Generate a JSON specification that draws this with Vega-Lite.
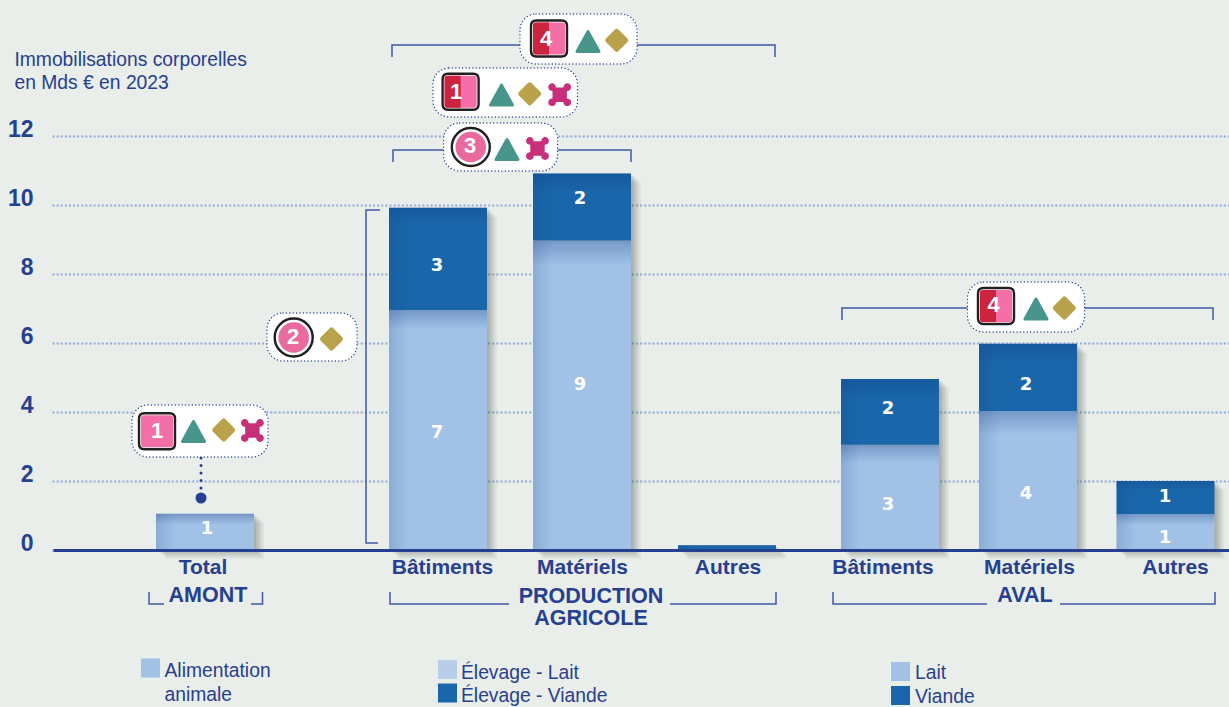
{
"$schema":"https://vega.github.io/schema/vega-lite/v6.json",
"width":1176,"height":414,
"autosize":{"type":"none"},
"padding":{"left":53,"top":136,"right":0,"bottom":157},
"background":"#e9eeea",
"config":{"view":{"stroke":null},"font":"Liberation Sans"},
"title":{"text":["Immobilisations corporelles","en Mds € en 2023"],"anchor":"start","align":"left","dx":7,"dy":80,"offset":0,"font":"Liberation Sans","fontSize":19.3,"fontWeight":"normal","color":"#27408f","lineHeight":23},
"datasets":{
"barres":[
{"bar":"Amont Total","pos":1.52,"serie":"Alimentation animale","teinte":"clair","ordre":1,"valeur":1.05},
{"bar":"Production Bâtiments","pos":3.85,"serie":"Élevage - Lait","teinte":"clair","ordre":1,"valeur":6.96},
{"bar":"Production Bâtiments","pos":3.85,"serie":"Élevage - Viande","teinte":"fonce","ordre":2,"valeur":2.96},
{"bar":"Production Matériels","pos":5.29,"serie":"Élevage - Lait","teinte":"clair","ordre":1,"valeur":8.97},
{"bar":"Production Matériels","pos":5.29,"serie":"Élevage - Viande","teinte":"fonce","ordre":2,"valeur":1.94},
{"bar":"Production Autres","pos":6.74,"serie":"Élevage - Viande","teinte":"fonce","ordre":2,"valeur":0.14},
{"bar":"Aval Bâtiments","pos":8.37,"serie":"Lait","teinte":"clair","ordre":1,"valeur":3.05},
{"bar":"Aval Bâtiments","pos":8.37,"serie":"Viande","teinte":"fonce","ordre":2,"valeur":1.91},
{"bar":"Aval Matériels","pos":9.75,"serie":"Lait","teinte":"clair","ordre":1,"valeur":4.03},
{"bar":"Aval Matériels","pos":9.75,"serie":"Viande","teinte":"fonce","ordre":2,"valeur":1.95},
{"bar":"Aval Autres","pos":11.125,"serie":"Lait","teinte":"clair","ordre":1,"valeur":1.04},
{"bar":"Aval Autres","pos":11.125,"serie":"Viande","teinte":"fonce","ordre":2,"valeur":0.96}
],
"etiquettes":[
{"pos":1.54,"val":0.609,"texte":"1"},
{"pos":3.84,"val":3.391,"texte":"7"},{"pos":3.84,"val":8.232,"texte":"3"},
{"pos":5.27,"val":4.783,"texte":"9"},{"pos":5.27,"val":10.174,"texte":"2"},
{"pos":8.35,"val":1.304,"texte":"3"},{"pos":8.35,"val":4.087,"texte":"2"},
{"pos":9.73,"val":1.623,"texte":"4"},{"pos":9.73,"val":4.783,"texte":"2"},
{"pos":11.12,"val":0.348,"texte":"1"},{"pos":11.12,"val":1.536,"texte":"1"}
],
"crochets":[
{"trait":"A","ordre":1,"pos":3.39,"val":14.29},{"trait":"A","ordre":2,"pos":3.39,"val":14.638},{"trait":"A","ordre":3,"pos":7.22,"val":14.638},{"trait":"A","ordre":4,"pos":7.22,"val":14.29},
{"trait":"B","ordre":1,"pos":3.40,"val":11.246},{"trait":"B","ordre":2,"pos":3.40,"val":11.594},{"trait":"B","ordre":3,"pos":5.78,"val":11.594},{"trait":"B","ordre":4,"pos":5.78,"val":11.246},
{"trait":"C","ordre":1,"pos":3.27,"val":9.855},{"trait":"C","ordre":2,"pos":3.13,"val":9.855},{"trait":"C","ordre":3,"pos":3.13,"val":0.203},{"trait":"C","ordre":4,"pos":3.25,"val":0.203},
{"trait":"D","ordre":1,"pos":7.89,"val":6.667},{"trait":"D","ordre":2,"pos":7.89,"val":7.014},{"trait":"D","ordre":3,"pos":11.60,"val":7.014},{"trait":"D","ordre":4,"pos":11.60,"val":6.667},
{"trait":"E1","ordre":1,"pos":0.96,"val":-1.217},{"trait":"E1","ordre":2,"pos":0.96,"val":-1.565},{"trait":"E1","ordre":3,"pos":1.11,"val":-1.565},
{"trait":"E2","ordre":1,"pos":1.98,"val":-1.565},{"trait":"E2","ordre":2,"pos":2.095,"val":-1.565},{"trait":"E2","ordre":3,"pos":2.095,"val":-1.217},
{"trait":"F1","ordre":1,"pos":3.37,"val":-1.217},{"trait":"F1","ordre":2,"pos":3.37,"val":-1.565},{"trait":"F1","ordre":3,"pos":4.56,"val":-1.565},
{"trait":"F2","ordre":1,"pos":6.17,"val":-1.565},{"trait":"F2","ordre":2,"pos":7.23,"val":-1.565},{"trait":"F2","ordre":3,"pos":7.23,"val":-1.217},
{"trait":"G1","ordre":1,"pos":7.80,"val":-1.217},{"trait":"G1","ordre":2,"pos":7.80,"val":-1.565},{"trait":"G1","ordre":3,"pos":9.34,"val":-1.565},
{"trait":"G2","ordre":1,"pos":10.07,"val":-1.565},{"trait":"G2","ordre":2,"pos":11.62,"val":-1.565},{"trait":"G2","ordre":3,"pos":11.62,"val":-1.217}
],
"bulles":[
{"pos":0.79,"pos2":2.15,"val":4.203,"val2":2.696},
{"pos":4.67,"pos2":5.84,"val":15.536,"val2":14.087},
{"pos":3.80,"pos2":5.245,"val":13.971,"val2":12.551},
{"pos":3.906,"pos2":5.046,"val":12.377,"val2":10.986},
{"pos":2.14,"pos2":3.04,"val":6.870,"val2":5.478},
{"pos":9.145,"pos2":10.316,"val":7.768,"val2":6.319}
],
"marqueurs":[
{"forme":"carre","pos":1.04,"val":3.443},{"forme":"triangle","pos":1.405,"val":3.435},{"forme":"losange","pos":1.707,"val":3.478},{"forme":"croix","pos":1.994,"val":3.464},
{"forme":"carre2","pos":4.96,"val":14.826},{"forme":"triangle","pos":5.35,"val":14.739},{"forme":"losange","pos":5.637,"val":14.774},
{"forme":"carre2","pos":4.076,"val":13.284},{"forme":"triangle","pos":4.485,"val":13.188},{"forme":"losange","pos":4.767,"val":13.223},{"forme":"croix","pos":5.067,"val":13.197},
{"forme":"rond","pos":4.178,"val":11.681},{"forme":"triangle","pos":4.54,"val":11.609},{"forme":"croix","pos":4.845,"val":11.638},
{"forme":"rond","pos":2.407,"val":6.159},{"forme":"losange","pos":2.785,"val":6.116},
{"forme":"carre2","pos":9.43,"val":7.072},{"forme":"triangle","pos":9.83,"val":6.986},{"forme":"losange","pos":10.113,"val":7.014}
],
"numeros":[
{"pos":1.04,"val":3.449,"texte":"1"},{"pos":4.93,"val":14.812,"texte":"4"},{"pos":4.03,"val":13.275,"texte":"1"},{"pos":4.17,"val":11.71,"texte":"3"},{"pos":2.40,"val":6.174,"texte":"2"},{"pos":9.405,"val":7.101,"texte":"4"}
],
"categories":[
{"pos":1.50,"val":-0.522,"texte":"Total"},{"pos":3.895,"val":-0.522,"texte":"Bâtiments"},{"pos":5.295,"val":-0.522,"texte":"Matériels"},{"pos":6.75,"val":-0.522,"texte":"Autres"},{"pos":8.30,"val":-0.522,"texte":"Bâtiments"},{"pos":9.765,"val":-0.522,"texte":"Matériels"},{"pos":11.225,"val":-0.522,"texte":"Autres"}
],
"groupes":[
{"pos":1.55,"val":-1.333,"texte":"AMONT"},{"pos":5.38,"val":-1.362,"texte":["PRODUCTION","AGRICOLE"]},{"pos":9.72,"val":-1.333,"texte":"AVAL"}
],
"legende":[
{"pos":0.975,"val":-3.42,"teinte":"clair"},{"pos":3.945,"val":-3.464,"teinte":"pale"},{"pos":3.945,"val":-4.145,"teinte":"fonce"},{"pos":8.475,"val":-3.522,"teinte":"clair"},{"pos":8.475,"val":-4.217,"teinte":"fonce"}
],
"legendeTextes":[
{"pos":1.115,"val":-3.507,"texte":"Alimentation"},{"pos":1.115,"val":-4.203,"texte":"animale"},{"pos":4.08,"val":-3.565,"texte":"Élevage - Lait"},{"pos":4.08,"val":-4.232,"texte":"Élevage - Viande"},{"pos":8.62,"val":-3.565,"texte":"Lait"},{"pos":8.62,"val":-4.261,"texte":"Viande"}
]
},
"encoding":{
"x":{"field":"pos","type":"quantitative","title":null,"scale":{"domain":[0,11.76],"nice":false,"zero":false,"padding":0},"axis":{"labels":false,"ticks":false,"grid":false,"domain":true,"domainColor":"#25408f","domainWidth":3,"zindex":1,"title":null}},
"y":{"field":"val","type":"quantitative","title":null,"scale":{"domain":[0,12],"nice":false,"zero":false,"padding":0},"axis":{"values":[0,2,4,6,8,10,12],"domain":false,"ticks":false,"labelFont":"Liberation Sans","labelFontSize":23,"labelFontWeight":"bold","labelColor":"#25408f","labelPadding":20,"labelOffset":-7,"grid":true,"gridColor":"#9fb0dd","gridWidth":2.4,"gridDash":[0.01,4.1],"gridCap":"round","zindex":0,"title":null}}
},
"layer":[
{"data":{"name":"barres"},
 "transform":[{"stack":"valeur","groupby":["bar"],"sort":[{"field":"ordre","order":"ascending"}],"as":["bas","haut"]}],
 "encoding":{"y":{"field":"haut","type":"quantitative","title":null},"y2":{"field":"bas"}},
 "layer":[
 {"mark":{"type":"bar","orient":"vertical","size":98,"fill":"#4a4f4c","opacity":0.07,"xOffset":10,"yOffset":9,"y2Offset":9}},
 {"mark":{"type":"bar","orient":"vertical","size":98,"fill":"#4a4f4c","opacity":0.08,"xOffset":8,"yOffset":7,"y2Offset":7}},
 {"mark":{"type":"bar","orient":"vertical","size":98,"fill":"#4a4f4c","opacity":0.09,"xOffset":6,"yOffset":5,"y2Offset":5}},
 {"mark":{"type":"bar","orient":"vertical","size":98,"fill":"#4a4f4c","opacity":0.1,"xOffset":4,"yOffset":3,"y2Offset":3}},
 {"mark":{"type":"bar","orient":"vertical","size":98,"fill":"#4a4f4c","opacity":0.12,"xOffset":2,"yOffset":2,"y2Offset":2}},
 {"mark":{"type":"bar","orient":"vertical","size":98},"encoding":{"color":{"field":"teinte","type":"nominal","legend":null,"scale":{"domain":["clair","fonce","pale"],"range":["#a1c1e6","#1a66aa","#b8cde9"]}}}},
 {"transform":[{"filter":"datum.valeur<2.5"}],"mark":{"type":"bar","orient":"vertical","size":98,"fill":{"gradient":"linear","x1":0,"y1":0,"x2":0,"y2":1,"stops":[{"offset":0,"color":"rgba(15,60,130,0.3)"},{"offset":0.3,"color":"rgba(15,60,130,0)"},{"offset":1,"color":"rgba(15,60,130,0)"}]}}},
 {"transform":[{"filter":"datum.valeur>=2.5&&datum.valeur<5"}],"mark":{"type":"bar","orient":"vertical","size":98,"fill":{"gradient":"linear","x1":0,"y1":0,"x2":0,"y2":1,"stops":[{"offset":0,"color":"rgba(15,60,130,0.3)"},{"offset":0.17,"color":"rgba(15,60,130,0)"},{"offset":1,"color":"rgba(15,60,130,0)"}]}}},
 {"transform":[{"filter":"datum.valeur>=5"}],"mark":{"type":"bar","orient":"vertical","size":98,"fill":{"gradient":"linear","x1":0,"y1":0,"x2":0,"y2":1,"stops":[{"offset":0,"color":"rgba(15,60,130,0.3)"},{"offset":0.08,"color":"rgba(15,60,130,0)"},{"offset":1,"color":"rgba(15,60,130,0)"}]}}},
 {"mark":{"type":"bar","orient":"vertical","size":98,"fill":{"gradient":"linear","x1":0,"y1":0,"x2":1,"y2":0,"stops":[{"offset":0,"color":"rgba(15,60,130,0.16)"},{"offset":0.2,"color":"rgba(15,60,130,0)"},{"offset":1,"color":"rgba(15,60,130,0)"}]}}}
 ]},
{"data":{"name":"etiquettes"},"mark":{"type":"text","font":"DejaVu Sans","fontWeight":"bold","fontSize":18,"fill":"#ffffff","align":"center","baseline":"middle"},"encoding":{"text":{"field":"texte"}}},
{"data":{"name":"crochets"},"mark":{"type":"line","stroke":"#3f59a3","strokeWidth":1.5,"interpolate":"linear"},"encoding":{"detail":{"field":"trait"},"order":{"field":"ordre"}}},
{"data":{"values":[{"pos":1.48,"val":2.667,"val2":1.739}]},"mark":{"type":"rule","stroke":"#25408f","strokeWidth":3,"strokeDash":[0.01,7.5],"strokeCap":"round"},"encoding":{"y2":{"field":"val2"}}},
{"data":{"values":[{"pos":1.48,"val":1.507}]},"mark":{"type":"point","shape":"circle","filled":true,"fill":"#25408f","size":121,"opacity":1}},
{"data":{"name":"bulles"},"mark":{"type":"rect","fill":"#ffffff","stroke":"#25408f","strokeWidth":1.4,"strokeDash":[0.01,3.4],"strokeCap":"round","cornerRadius":16},"encoding":{"x2":{"field":"pos2"},"y2":{"field":"val2"}}},
{"data":{"name":"marqueurs"},"transform":[{"filter":"datum.forme==='triangle'"}],"mark":{"type":"point","shape":"M0,-0.9 L1,0.9 L-1,0.9 Z","filled":true,"fill":"#47958b","stroke":"#47958b","strokeWidth":3,"strokeJoin":"round","size":484,"opacity":1}},
{"data":{"name":"marqueurs"},"transform":[{"filter":"datum.forme==='losange'"}],"mark":{"type":"point","shape":"M0,-1 L1,0 L0,1 L-1,0 Z","filled":true,"fill":"#b9a24a","stroke":"#b9a24a","strokeWidth":5,"strokeJoin":"round","size":324,"opacity":1}},
{"data":{"name":"marqueurs"},"transform":[{"filter":"datum.forme==='croix'"}],"mark":{"type":"point","shape":"M0.36,-0.68 A0.36,0.36 0 1 1 0.68,-0.36 L0.68,0.36 A0.36,0.36 0 1 1 0.36,0.68 L-0.36,0.68 A0.36,0.36 0 1 1 -0.68,0.36 L-0.68,-0.36 A0.36,0.36 0 1 1 -0.36,-0.68 Z","filled":true,"fill":"#c72f78","size":450,"opacity":1}},
{"data":{"name":"marqueurs"},"transform":[{"filter":"datum.forme==='carre'||datum.forme==='carre2'"}],"mark":{"type":"point","shape":"M-1,-0.7 Q-1,-1 -0.7,-1 L0.7,-1 Q1,-1 1,-0.7 L1,0.7 Q1,1 0.7,1 L-0.7,1 Q-1,1 -1,0.7 Z","filled":true,"fill":"#ffffff","stroke":"#231f20","strokeWidth":2.4,"size":1296,"opacity":1}},
{"data":{"name":"marqueurs"},"transform":[{"filter":"datum.forme==='carre'||datum.forme==='carre2'"}],"mark":{"type":"point","shape":"M-1,-0.82 Q-1,-1 -0.82,-1 L0.82,-1 Q1,-1 1,-0.82 L1,0.82 Q1,1 0.82,1 L-0.82,1 Q-1,1 -1,0.82 Z","filled":true,"fill":"#f46ea8","size":1024,"opacity":1}},
{"data":{"name":"marqueurs"},"transform":[{"filter":"datum.forme==='carre2'"}],"mark":{"type":"point","shape":"M-1,-0.82 Q-1,-1 -0.82,-1 L0,-1 L0,1 L-0.82,1 Q-1,1 -1,0.82 Z","filled":true,"fill":"#cc233f","size":1024,"opacity":1}},
{"data":{"name":"marqueurs"},"transform":[{"filter":"datum.forme==='rond'"}],"mark":{"type":"point","shape":"circle","filled":true,"fill":"#ffffff","stroke":"#231f20","strokeWidth":2.4,"size":1444,"opacity":1}},
{"data":{"name":"marqueurs"},"transform":[{"filter":"datum.forme==='rond'"}],"mark":{"type":"point","shape":"circle","filled":true,"fill":"#ea6a9f","size":930,"opacity":1}},
{"data":{"name":"numeros"},"mark":{"type":"text","font":"Liberation Sans","fontWeight":"bold","fontSize":22,"fill":"#ffffff","align":"center","baseline":"middle"},"encoding":{"text":{"field":"texte"}}},
{"data":{"name":"categories"},"mark":{"type":"text","font":"Liberation Sans","fontWeight":"bold","fontSize":21,"fill":"#27408f","align":"center","baseline":"middle"},"encoding":{"text":{"field":"texte"}}},
{"data":{"name":"groupes"},"mark":{"type":"text","font":"Liberation Sans","fontWeight":"bold","fontSize":21.5,"lineHeight":22.5,"fill":"#25408f","align":"center","baseline":"middle"},"encoding":{"text":{"field":"texte"}}},
{"data":{"name":"legende"},"mark":{"type":"point","shape":"square","filled":true,"size":361,"opacity":1},"encoding":{"color":{"field":"teinte","type":"nominal","legend":null}}},
{"data":{"name":"legendeTextes"},"mark":{"type":"text","font":"Liberation Sans","fontSize":19.3,"fill":"#27408f","align":"left","baseline":"middle"},"encoding":{"text":{"field":"texte"}}}
]
}
